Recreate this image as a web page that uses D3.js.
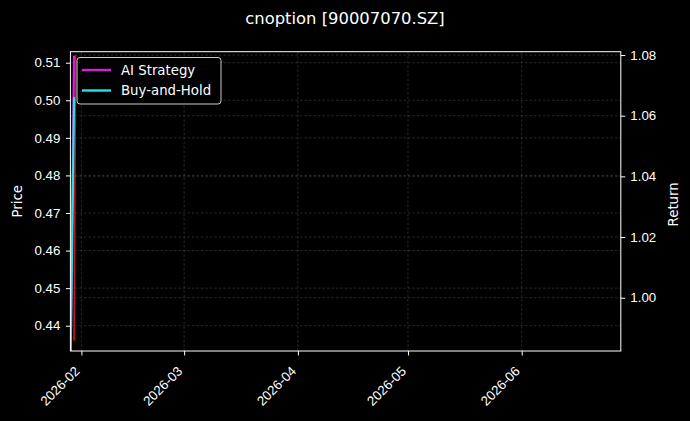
<!DOCTYPE html>
<html>
<head>
<meta charset="utf-8">
<script src="https://cdn.jsdelivr.net/npm/d3@7"></script>
<style>
  html, body { margin: 0; padding: 0; background: #000; }
  svg { display: block; font-family: "DejaVu Sans", sans-serif; }
</style>
</head>
<body>
<svg id="chart" width="690" height="421"></svg>
<script>
// ---- data ----
const title = "cnoption [90007070.SZ]";
const xDomain = ["2026-01-29", "2026-06-28"];
const xTickLabels = ["2026-02", "2026-03", "2026-04", "2026-05", "2026-06"];
const priceTicks = [0.44, 0.45, 0.46, 0.47, 0.48, 0.49, 0.50, 0.51];
const returnTicks = [1.00, 1.02, 1.04, 1.06, 1.08];
const priceDates = ["2026-01-30T00:00", "2026-01-30T10:00"];
const priceValues = [0.436, 0.512];
const returnDates = ["2026-01-29T00:00", "2026-01-30T00:00"];
const aiValues = [0.975, 1.0798];
const bhValues = [0.975, 1.0662];
const seriesNames = ["AI Strategy", "Buy-and-Hold"];
const seriesColors = ["#d81ed8", "#22e2ea"];
const priceColor = "#c8161a";

// ---- layout ----
const W = 690, H = 421;
const L = 70.4, R = 620.8, T = 51.7, B = 351;
const svg = d3.select("#chart");
svg.append("rect").attr("width", W).attr("height", H).attr("fill", "#000");

const parse = d3.isoParse;
const x = d3.scaleTime().domain(xDomain.map(parse)).range([L, R]);
const yP = d3.scaleLinear().domain([0.43327, 0.51293]).range([B, T]);
const yR = d3.scaleLinear().domain([0.98243, 1.0811]).range([B, T]);

const xTicks = xTickLabels.map(s => parse(s + "-01"));

// grid
const grid = svg.append("g").attr("stroke", "#808080").attr("stroke-opacity", 0.45)
  .attr("stroke-width", 0.7).attr("stroke-dasharray", "2.5,2");
grid.selectAll(".gx").data(xTicks).join("line")
  .attr("x1", d => x(d)).attr("x2", d => x(d)).attr("y1", T).attr("y2", B);
grid.selectAll(".gp").data(priceTicks).join("line")
  .attr("x1", L).attr("x2", R).attr("y1", d => yP(d)).attr("y2", d => yP(d));
grid.selectAll(".gr").data(returnTicks).join("line")
  .attr("x1", L).attr("x2", R).attr("y1", d => yR(d)).attr("y2", d => yR(d));

// clip
svg.append("clipPath").attr("id", "clip").append("rect")
  .attr("x", L).attr("y", T).attr("width", R - L).attr("height", B - T);

const plot = svg.append("g").attr("clip-path", "url(#clip)");

const priceData = priceDates.map((d, i) => ({ d: parse(d), v: priceValues[i] }));
plot.append("path").datum(priceData)
  .attr("fill", "none").attr("stroke", priceColor).attr("stroke-width", 1.6)
  .attr("d", d3.line().x(p => x(p.d)).y(p => yP(p.v)));

[aiValues, bhValues].forEach((vals, k) => {
  const data = returnDates.map((d, i) => ({ d: parse(d), v: vals[i] }));
  plot.append("path").datum(data)
    .attr("fill", "none").attr("stroke", seriesColors[k]).attr("stroke-width", 2.2)
    .attr("d", d3.line().x(p => x(p.d)).y(p => yR(p.v)));
});

// axes
const fs = 13.3;
const xAxis = svg.append("g").attr("transform", `translate(0,${B})`)
  .call(d3.axisBottom(x).tickValues(xTicks).tickSize(4.5).tickFormat(d3.timeFormat("%Y-%m")));
xAxis.selectAll("text").attr("fill", "#fff").style("font-size", fs + "px")
  .attr("text-anchor", "end").attr("dy", null).attr("y", null)
  .attr("transform", "translate(-1.5,21) rotate(-45)");

const yAxisL = svg.append("g").attr("transform", `translate(${L},0)`)
  .call(d3.axisLeft(yP).tickValues(priceTicks).tickSize(4.5).tickPadding(5.5).tickFormat(d3.format(".2f")));
yAxisL.selectAll("text").attr("fill", "#fff").style("font-size", fs + "px");

const yAxisR = svg.append("g").attr("transform", `translate(${R},0)`)
  .call(d3.axisRight(yR).tickValues(returnTicks).tickSize(4.5).tickPadding(5).tickFormat(d3.format(".2f")));
yAxisR.selectAll("text").attr("fill", "#fff").style("font-size", fs + "px");

[xAxis, yAxisL, yAxisR].forEach(a => {
  a.select(".domain").remove();
  a.selectAll(".tick line").attr("stroke", "#fff").attr("stroke-width", 1);
});

// spines
svg.append("rect").attr("x", L).attr("y", T).attr("width", R - L).attr("height", B - T)
  .attr("fill", "none").attr("stroke", "#fff").attr("stroke-width", 1);

// labels
svg.append("text").attr("x", W / 2).attr("y", 24).attr("text-anchor", "middle")
  .attr("fill", "#fff").style("font-size", "16.4px").text(title);
svg.append("text").attr("transform", `translate(22,${(T + B) / 2}) rotate(-90)`)
  .attr("text-anchor", "middle").attr("fill", "#fff").style("font-size", fs + "px").text("Price");
svg.append("text").attr("transform", `translate(678,${(T + B) / 2 + 3}) rotate(-90)`)
  .attr("text-anchor", "middle").attr("fill", "#fff").style("font-size", fs + "px").text("Return");

// legend
const lg = svg.append("g");
lg.append("rect").attr("x", 77).attr("y", 57.5).attr("width", 144).attr("height", 46.5)
  .attr("rx", 3).attr("fill", "#000").attr("fill-opacity", 0.8)
  .attr("stroke", "#cccccc").attr("stroke-width", 1);
seriesNames.forEach((n, i) => {
  const cy = 70 + i * 20.5;
  lg.append("line").attr("x1", 82).attr("x2", 111).attr("y1", cy).attr("y2", cy)
    .attr("stroke", seriesColors[i]).attr("stroke-width", 2.4);
  lg.append("text").attr("x", 121).attr("y", cy + 4.8).attr("fill", "#fff")
    .style("font-size", fs + "px").text(n);
});
</script>
</body>
</html>
